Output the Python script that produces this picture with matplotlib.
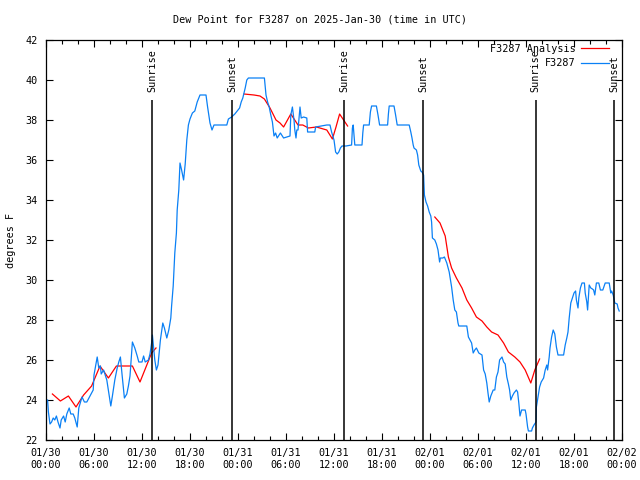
import numpy as np
import pandas as pd
import matplotlib
matplotlib.use('Agg')
import matplotlib.pyplot as plt
import matplotlib.dates as mdates
from matplotlib.lines import Line2D

plt.rcParams['font.family'] = 'DejaVu Sans Mono'
plt.rcParams['font.size'] = 7.3

start = pd.Timestamp('2025-01-30 00:00')

# observed dew point (hours since start, deg F)
obs_hours = [0.2, 0.3, 0.5, 0.7, 0.9, 1.1, 1.3, 1.5, 1.75, 1.9, 2.2, 2.4, 2.6, 2.9, 3.1, 3.4, 3.6, 3.9,
             4.1, 4.5, 4.8, 5.1, 5.5, 5.9, 6.0, 6.4, 6.6, 6.8, 6.9, 7.2, 7.6, 7.9, 8.1, 8.3, 8.6, 8.9,
             9.1, 9.3, 9.5, 9.8, 10.1, 10.3, 10.5, 10.8, 11.1, 11.4, 11.6, 12.0, 12.2, 12.4, 12.8,
             13.0, 13.2, 13.3, 13.45, 13.6, 13.8, 14.0, 14.3, 14.6, 14.8, 15.1, 15.35, 15.6, 15.7,
             15.9, 16.1, 16.3, 16.4, 16.6, 16.75, 16.95, 17.2, 17.4, 17.6, 17.8, 18.0, 18.3, 18.6,
             18.9, 19.25, 20.0, 20.2, 20.5, 20.75, 21.0, 22.6, 22.8, 23.2, 23.6, 23.8, 24.2, 24.4,
             24.6, 24.9, 25.1, 25.3, 27.3, 27.5, 27.7, 27.9, 28.1, 28.3, 28.5, 28.7, 28.9, 29.3,
             29.7, 30.5, 30.6, 30.8, 31.0, 31.1, 31.25, 31.35, 31.5, 31.75, 31.9, 32.2, 32.6, 32.7,
             33.6, 33.7, 35.1, 35.5, 35.7, 36.0, 36.2, 36.4, 36.6, 36.8, 37.0, 37.5, 38.2, 38.3,
             38.4, 38.5, 38.6, 39.5, 39.6, 39.7, 40.4, 40.55, 40.7, 41.3, 41.5, 41.7, 42.7, 42.8,
             42.9, 43.5, 43.7, 43.9, 45.4, 45.6, 45.75, 45.9, 46.0, 46.3, 46.45, 46.6, 46.85, 47.0,
             47.2, 47.25, 47.3, 47.5, 47.7, 47.9, 48.1, 48.2, 48.3, 48.6, 48.8, 49.0, 49.2, 49.3,
             49.6, 49.8, 50.1, 50.4, 50.7, 50.9, 51.1, 51.3, 51.5, 51.6, 52.6, 52.8, 53.0, 53.2,
             53.4, 53.6, 53.8, 54.1, 54.5, 54.7, 54.9, 55.1, 55.25, 55.4, 55.6, 55.9, 56.1, 56.3,
             56.5, 56.7, 57.0, 57.2, 57.4, 57.6, 57.8, 57.95, 58.1, 58.3, 58.5, 58.8, 58.95, 59.1,
             59.25, 59.45, 59.9, 60.0, 60.2, 60.3, 60.7, 60.8, 61.0, 61.25, 61.3, 61.5, 61.7, 61.9,
             62.2, 62.4, 62.6, 62.7, 62.9, 63.0, 63.2, 63.4, 63.6, 63.8, 64.0, 64.7, 64.9, 65.1,
             65.25, 65.4, 65.6, 65.8, 66.0, 66.2, 66.3, 66.5, 66.6, 66.8, 67.0, 67.3, 67.4, 67.6,
             67.7, 67.9, 68.1, 68.3, 68.45, 68.6, 68.8, 69.1, 69.3, 69.6, 69.9, 70.4, 70.6, 70.7,
             70.9, 71.1, 71.4, 71.5, 71.65]
obs_dewpt = [24.0, 23.4, 22.8, 22.9, 23.1, 23.0, 23.2, 22.9, 22.6, 23.0, 23.2, 22.9, 23.3, 23.6, 23.3,
             23.3, 23.1, 22.65, 23.6, 24.15, 23.9, 23.9, 24.2, 24.5, 25.25, 26.15, 25.6, 25.7, 25.3,
             25.5, 25.0, 24.2, 23.7, 24.2, 25.0, 25.6, 25.9, 26.15, 25.3, 24.1, 24.3, 24.7, 25.2,
             26.9, 26.6, 26.2, 25.9, 25.9, 26.2, 25.9, 26.0, 26.3, 26.85, 27.25, 26.6, 26.0, 25.5,
             25.75, 27.0, 27.85, 27.6, 27.1, 27.5, 28.1, 28.7, 29.7, 31.35, 32.35, 33.5, 34.5, 35.85,
             35.5, 35.0, 35.8, 37.0, 37.75, 38.05, 38.35, 38.45, 38.9, 39.25, 39.25, 38.65, 37.85,
             37.5, 37.75, 37.75, 38.05, 38.15, 38.3, 38.4, 38.6, 38.9, 39.1, 39.6, 40.0, 40.1, 40.1,
             39.25, 38.9, 38.65, 38.25, 37.9, 37.2, 37.35, 37.1, 37.35, 37.1, 37.2, 38.25, 38.65,
             38.0, 37.5, 37.1, 37.5, 37.5, 38.65, 38.1, 38.15, 38.1, 37.4, 37.4, 37.65, 37.75, 37.75,
             37.4, 37.0, 36.4, 36.3, 36.4, 36.6, 36.7, 36.7, 36.75, 37.6, 37.75, 37.25, 36.75, 36.75,
             37.35, 37.75, 37.75, 38.4, 38.7, 38.7, 38.25, 37.75, 37.75, 38.3, 38.7, 38.7, 38.25,
             37.75, 37.75, 37.4, 37.1, 36.75, 36.6, 36.5, 36.25, 35.75, 35.45, 35.4, 35.25, 34.75,
             34.25, 33.9, 33.7, 33.4, 33.2, 32.9, 32.1, 32.0, 31.8, 31.5, 30.9, 31.1, 31.1, 31.15,
             30.85, 30.4, 29.65, 29.0, 28.5, 28.4, 27.85, 27.7, 27.7, 27.15, 27.0, 26.85, 26.35,
             26.5, 26.6, 26.35, 26.25, 25.5, 25.3, 24.85, 24.35, 23.9, 24.2, 24.5, 24.5, 25.15, 25.4,
             26.0, 26.15, 25.9, 25.8, 25.15, 24.8, 24.5, 24.0, 24.2, 24.35, 24.5, 24.4, 23.85, 23.2,
             23.5, 23.5, 23.3, 22.65, 22.45, 22.45, 22.6, 22.75, 22.9, 23.65, 24.15, 24.65, 24.9,
             25.1, 25.5, 25.75, 25.5, 26.15, 26.6, 27.15, 27.5, 27.3, 26.65, 26.25, 26.25, 26.75,
             27.1, 27.4, 28.1, 28.85, 29.1, 29.35, 29.45, 29.0, 28.6, 29.1, 29.6, 29.85, 29.85,
             29.35, 28.9, 28.5, 29.75, 29.6, 29.55, 29.5, 29.25, 29.85, 29.85, 29.5, 29.5, 29.85,
             29.85, 29.35, 29.45, 29.25, 28.85, 28.8, 28.6, 28.45]

# analysis dew point (nan = no data)
ana_hours = [0.8, 1.8, 2.8, 3.75, 4.7, 5.7, 6.75, 7.8, 8.8, 10.8, 11.75, 13.2, 13.75, 14.0,
             24.75, 26.0, 26.75, 27.3, 28.0, 28.75, 29.25, 29.7, 30.6, 31.5, 32.1, 32.8, 33.8, 35.1,
             35.8, 36.25, 36.7, 37.2, 37.7, 38.0,
             48.6, 49.25, 49.9, 50.3, 50.7, 51.3, 52.0, 52.6, 53.2, 53.8, 54.5, 55.1, 55.7, 56.5,
             57.2, 57.8, 58.6, 59.25, 59.9, 60.6, 61.1, 61.7]
ana_dewpt = [24.3, 23.95, 24.2, 23.65, 24.25, 24.7, 25.7, 25.1, 25.7, 25.7, 24.9, 26.35, 26.6, np.nan,
             39.3, 39.25, 39.2, 39.05, 38.6, 38.0, 37.85, 37.65, 38.3, 37.75, 37.75, 37.6, 37.65, 37.5,
             37.05, 37.65, 38.3, 38.0, 37.7, np.nan,
             33.15, 32.85, 32.2, 31.15, 30.6, 30.1, 29.6, 29.0, 28.6, 28.15, 27.95, 27.65, 27.4, 27.25,
             26.85, 26.4, 26.15, 25.9, 25.5, 24.85, 25.5, 26.05]

sun_hours = [13.28, 23.25, 37.25, 47.18, 61.22, 71.05]
sun_labels = ['Sunrise', 'Sunset', 'Sunrise', 'Sunset', 'Sunrise', 'Sunset']

obs_t = start + pd.to_timedelta(obs_hours, unit='h')
ana_t = start + pd.to_timedelta(ana_hours, unit='h')
sun_t = start + pd.to_timedelta(sun_hours, unit='h')

fig = plt.figure(figsize=(6.4, 4.8), dpi=100)
ax = fig.add_axes([46/640, 40/480, 576/640, 400/480])

ax.plot(ana_t, ana_dewpt, color='#ff0000', lw=0.9)
ax.plot(obs_t, obs_dewpt, color='#0a80f5', lw=0.9)

for t, lab in zip(sun_t, sun_labels):
    ax.vlines(t, 22, 39, color='black', lw=1.1)
    ax.text(t, 39.4, lab, rotation=90, ha='center', va='bottom')

ax.set_xlim(start, start + pd.Timedelta(hours=72))
ax.set_ylim(22, 42)
ax.set_yticks(np.arange(22, 43, 2))
ax.xaxis.set_major_locator(mdates.HourLocator(byhour=[0, 6, 12, 18]))
ax.xaxis.set_minor_locator(mdates.HourLocator(interval=2))
ax.xaxis.set_major_formatter(mdates.DateFormatter('%m/%d\n%H:%M'))
ax.tick_params(which='both', direction='in', top=True, right=True, width=0.8)
ax.tick_params(which='major', length=5, pad=6)
ax.tick_params(which='minor', length=3)
for s in ax.spines.values():
    s.set_linewidth(0.9)

ax.set_ylabel('degrees F', labelpad=7)
fig.text(0.5, 1 - 19/480, 'Dew Point for F3287 on 2025-Jan-30 (time in UTC)', ha='center', va='center')

# legend
fig.text(576/640, 1 - 49/480, 'F3287 Analysis', ha='right', va='center')
fig.text(576/640, 1 - 63/480, 'F3287', ha='right', va='center')
fig.add_artist(Line2D([581/640, 609/640], [1 - 48/480] * 2, color='#ff0000', lw=0.9))
fig.add_artist(Line2D([581/640, 609/640], [1 - 63/480] * 2, color='#0a80f5', lw=0.9))

fig.savefig('out.png', dpi=100)
